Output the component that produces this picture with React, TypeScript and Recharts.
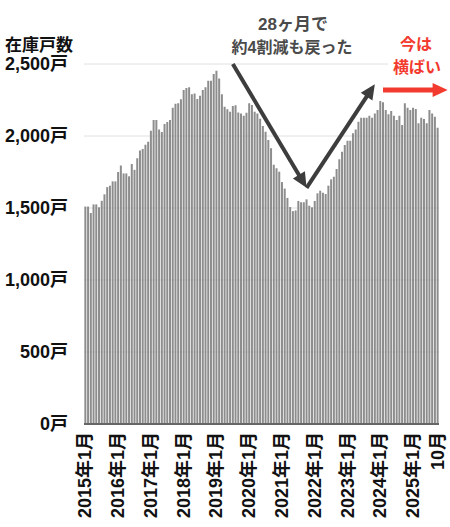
import { BarChart, Bar, XAxis, YAxis, CartesianGrid, ReferenceLine } from 'recharts';

// 在庫戸数（月次） 2015年1月〜2025年10月
const YEARS = [2015, 2016, 2017, 2018, 2019, 2020, 2021, 2022, 2023, 2024, 2025];
const INV_2015 = [1510, 1510, 1465, 1525, 1525, 1505, 1550, 1595, 1645, 1655, 1685, 1685];
const INV_2016 = [1750, 1795, 1740, 1740, 1720, 1805, 1765, 1845, 1900, 1910, 1940, 1960];
const INV_2017 = [2037, 2111, 2111, 2046, 2028, 2083, 2097, 2111, 2196, 2224, 2227, 2255];
const INV_2018 = [2319, 2333, 2338, 2290, 2296, 2257, 2280, 2319, 2338, 2384, 2384, 2430];
const INV_2019 = [2453, 2400, 2290, 2203, 2185, 2169, 2208, 2213, 2164, 2157, 2141, 2162];
const INV_2020 = [2227, 2215, 2169, 2157, 2120, 2070, 2030, 1972, 1915, 1800, 1776, 1752];
const INV_2021 = [1680, 1635, 1570, 1507, 1478, 1483, 1549, 1540, 1540, 1560, 1516, 1505];
const INV_2022 = [1549, 1602, 1620, 1606, 1597, 1655, 1699, 1717, 1771, 1838, 1891, 1937];
const INV_2023 = [1967, 1967, 2019, 2046, 2099, 2127, 2127, 2127, 2141, 2127, 2157, 2180];
const INV_2024 = [2243, 2234, 2180, 2151, 2173, 2141, 2111, 2141, 2076, 2227, 2196, 2180];
const INV_2025 = [2196, 2187, 2088, 2127, 2118, 2088, 2180, 2157, 2134, 2058];

const INVENTORY = [
  ...INV_2015, ...INV_2016, ...INV_2017, ...INV_2018, ...INV_2019, ...INV_2020,
  ...INV_2021, ...INV_2022, ...INV_2023, ...INV_2024, ...INV_2025,
];

const MONTH_KEYS = YEARS.flatMap((y) =>
  Array.from({ length: 12 }, (_, i) => `${y}-${String(i + 1).padStart(2, '0')}`)
).slice(0, INVENTORY.length);

const X_TICKS = [
  '2015-01', '2016-01', '2017-01', '2018-01', '2019-01', '2020-01',
  '2021-01', '2022-01', '2023-01', '2024-01', '2025-01', '2025-10',
];
const X_TICK_LABELS = [
  '2015年1月', '2016年1月', '2017年1月', '2018年1月', '2019年1月', '2020年1月',
  '2021年1月', '2022年1月', '2023年1月', '2024年1月', '2025年1月', '10月',
];
const Y_TICKS = [0, 500, 1000, 1500, 2000, 2500];

// annotation anchors (month key, value)
const DOWN_ARROW = [{ x: '2019-07', y: 2500 }, { x: '2021-10', y: 1640 }];
const UP_ARROW = [{ x: '2021-10', y: 1640 }, { x: '2023-11', y: 2360 }];
const FLAT_ARROW = [{ x: '2024-02', y: 2320 }, { x: '2025-10', y: 2320 }];

const data = MONTH_KEYS.map((month, i) => ({ month, value: INVENTORY[i] }));

const FONT = '"Liberation Sans", "Noto Sans CJK JP", sans-serif';
const BAR_COLOR = '#8d8d8d';
const DARK = '#3d3d3d';
const RED = '#f23a2e';

const arrowShape =
  (color: string, width: number, headLen: number, headHalf: number, overhang = 0) =>
  (props: any) => {
    const { x1, y1, x2, y2 } = props;
    const dx = x2 - x1;
    const dy = y2 - y1;
    const len = Math.hypot(dx, dy) || 1;
    const ux = dx / len;
    const uy = dy / len;
    const tx = x2 + ux * overhang;
    const ty = y2 + uy * overhang;
    const bx = tx - ux * headLen;
    const by = ty - uy * headLen;
    const px = -uy;
    const py = ux;
    return (
      <g>
        <line x1={x1} y1={y1} x2={bx + ux} y2={by + uy} stroke={color} strokeWidth={width} />
        <polygon
          points={`${tx},${ty} ${bx + px * headHalf},${by + py * headHalf} ${bx - px * headHalf},${by - py * headHalf}`}
          fill={color}
        />
      </g>
    );
  };

const MonthTick = ({ x, y, payload }: any) => {
  const idx = X_TICKS.indexOf(payload.value);
  return (
    <text
      x={x}
      y={y}
      transform={`rotate(-90 ${x} ${y})`}
      textAnchor="end"
      dominantBaseline="central"
      fontSize={18}
      fontWeight={700}
      fontFamily={FONT}
      fill="#111"
    >
      {X_TICK_LABELS[idx]}
    </text>
  );
};

export default function App() {
  return (
    <div style={{ position: 'absolute', left: 0, top: 0, width: 450, height: 527, background: '#fff' }}>
      <BarChart
        width={450}
        height={527}
        data={data}
        margin={{ top: 64, right: 11, left: 0, bottom: 0 }}
        barCategoryGap="13%"
      >
        <CartesianGrid horizontal vertical={false} stroke="#e0e0e0" />
        <XAxis
          dataKey="month"
          ticks={X_TICKS}
          interval={0}
          height={103}
          tickLine={false}
          axisLine={{ stroke: '#666', strokeWidth: 2 }}
          tick={<MonthTick />}
        />
        <YAxis
          domain={[0, 2500]}
          ticks={Y_TICKS}
          width={84}
          axisLine={false}
          tickLine={false}
          tickMargin={10}
          tickFormatter={(v: number) => `${v.toLocaleString('en-US')}戸`}
          tick={{ fontSize: 18, fontWeight: 700, fill: '#111', fontFamily: FONT }}
        />
        <Bar dataKey="value" fill={BAR_COLOR} isAnimationActive={false} />
        <ReferenceLine segment={DOWN_ARROW} ifOverflow="visible" shape={arrowShape(DARK, 4, 15, 7)} />
        <ReferenceLine segment={UP_ARROW} ifOverflow="visible" shape={arrowShape(DARK, 4, 15, 7)} />
        <ReferenceLine segment={FLAT_ARROW} ifOverflow="visible" shape={arrowShape(RED, 5, 15, 7, 10)} />
      </BarChart>
      <svg
        width={450}
        height={527}
        style={{ position: 'absolute', left: 0, top: 0, pointerEvents: 'none' }}
        fontFamily={FONT}
        fontWeight={700}
      >
        <text x={5} y={51} fontSize={17} fill="#111">在庫戸数</text>
        <text x={293} y={30} fontSize={17} fill="#4a4a4a" textAnchor="middle">28ヶ月で</text>
        <text x={292} y={53} fontSize={16} fill="#4a4a4a" textAnchor="middle">約4割減も戻った</text>
        <rect x={388} y={56} width={58} height={20} fill="#fff" />
        <text x={416} y={50} fontSize={16} fill={RED} textAnchor="middle">今は</text>
        <text x={417} y={73} fontSize={16} fill={RED} textAnchor="middle">横ばい</text>
      </svg>
    </div>
  );
}
